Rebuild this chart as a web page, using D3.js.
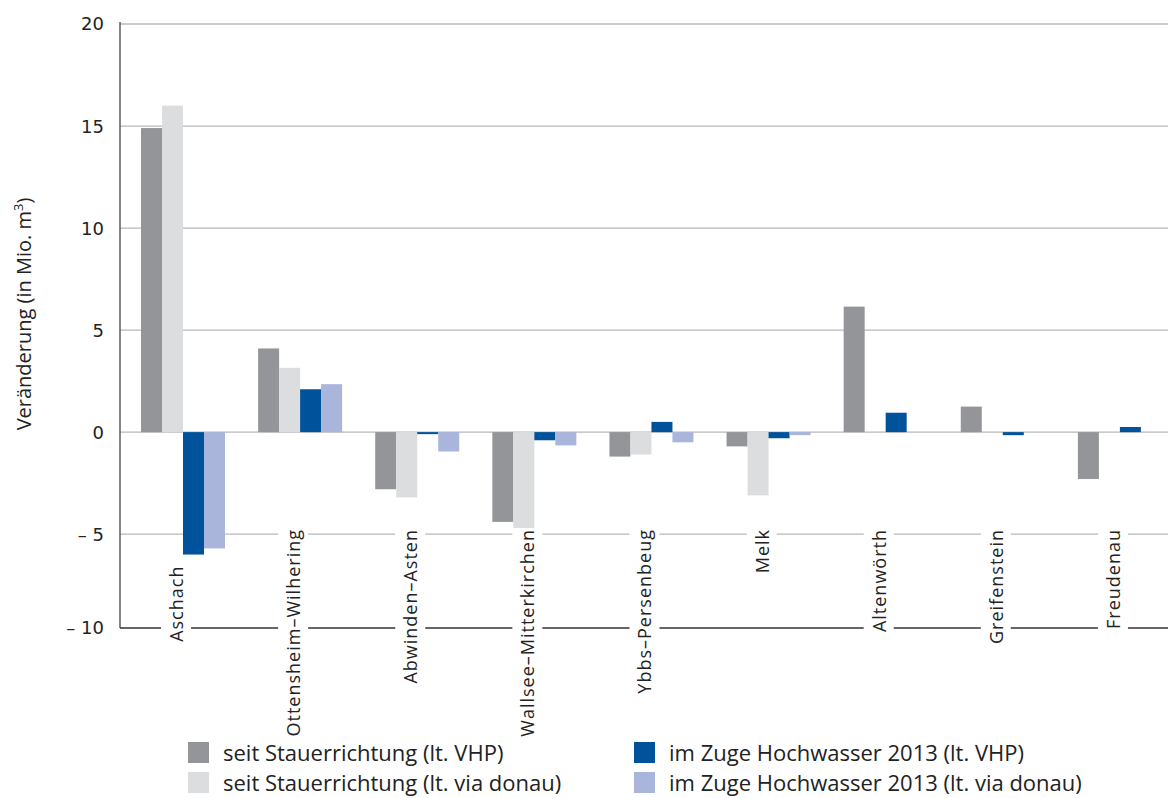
<!DOCTYPE html>
<html>
<head>
<meta charset="utf-8">
<script src="https://cdnjs.cloudflare.com/ajax/libs/d3/7.8.5/d3.min.js"></script>
<style>
  body { margin: 0; background: #fff; }
  svg { display: block; }
</style>
</head>
<body>
<svg id="chart" width="1168" height="798"></svg>
<script>
// data
var categories = ["Aschach", "Ottensheim\u2013Wilhering", "Abwinden\u2013Asten", "Wallsee\u2013Mitterkirchen",
  "Ybbs\u2013Persenbeug", "Melk", "Altenwörth", "Greifenstein", "Freudenau"];
var seitVHP = [14.9, 4.1, -2.8, -4.4, -1.2, -0.7, 6.15, 1.25, -2.3];
var seitVia = [16.0, 3.15, -3.2, -4.7, -1.1, -3.1, null, null, null];
var hwVHP = [-6.0, 2.1, -0.1, -0.4, 0.5, -0.3, 0.95, -0.15, 0.25];
var hwVia = [-5.7, 2.35, -0.95, -0.65, -0.5, -0.15, null, null, null];
var seriesNames = ["seit Stauerrichtung (lt. VHP)", "seit Stauerrichtung (lt. via donau)",
  "im Zuge Hochwasser 2013 (lt. VHP)", "im Zuge Hochwasser 2013 (lt. via donau)"];
var seriesColors = ["#939598", "#dcdddf", "#00529b", "#a9b5da"];
var yTicks = [20, 15, 10, 5, 0, -5, -10];

var series = [seitVHP, seitVia, hwVHP, hwVia];
var svg = d3.select("#chart");
var font = "'Open Sans', 'Noto Sans', sans-serif";

var plotLeft = 120, plotRight = 1174, plotTop = 24, plotBottom = 628;
var labelTop = 529;

var y = d3.scaleLinear().domain([-9.6, 20]).range([plotBottom, plotTop]).clamp(true);
var x = d3.scaleBand().domain(categories).range([plotLeft, plotRight]);
var xs = d3.scaleBand().domain(d3.range(series.length)).range([21, 105]);

// gridlines
svg.append("g")
  .selectAll("line")
  .data(yTicks.filter(function (t) { return t > -10; }))
  .join("line")
  .attr("x1", plotLeft).attr("x2", 1168)
  .attr("y1", function (d) { return y(d); })
  .attr("y2", function (d) { return y(d); })
  .attr("stroke", "#b8b8b8")
  .attr("stroke-width", 1.3);

// bars
var groups = svg.append("g").selectAll("g")
  .data(categories)
  .join("g")
  .attr("transform", function (d) { return "translate(" + x(d) + ",0)"; });

groups.each(function (cat, i) {
  var vals = series.map(function (s, k) { return { k: k, v: s[i] }; })
    .filter(function (d) { return d.v !== null; });
  d3.select(this).selectAll("rect")
    .data(vals)
    .join("rect")
    .attr("x", function (d) { return xs(d.k); })
    .attr("width", xs.bandwidth())
    .attr("y", function (d) { return y(Math.max(0, d.v)); })
    .attr("height", function (d) { return Math.abs(y(d.v) - y(0)); })
    .attr("fill", function (d) { return seriesColors[d.k]; });
});

// axis lines
svg.append("line")
  .attr("x1", plotLeft).attr("x2", plotLeft).attr("y1", plotTop - 2).attr("y2", plotBottom)
  .attr("stroke", "#444").attr("stroke-width", 1.3);
svg.append("line")
  .attr("x1", plotLeft).attr("x2", 1168).attr("y1", plotBottom).attr("y2", plotBottom)
  .attr("stroke", "#333").attr("stroke-width", 1.3);

// category labels (white box knocks out the lines behind)
var labelG = svg.append("g").selectAll("g")
  .data(categories)
  .join("g")
  .attr("transform", function (d, i) {
    var lowest = d3.min(series, function (s) { return s[i] === null ? 0 : s[i]; });
    // only push the label down when a bar reaches well below the label top
    var start = y(lowest) > labelTop + 10 ? y(lowest) + 11 : labelTop;
    return "translate(" + (x(d) + x.bandwidth() / 2 - 2) + "," + start + ") rotate(-90)";
  });

labelG.append("text")
  .attr("text-anchor", "end")
  .attr("dy", "0.36em")
  .attr("font-family", font)
  .attr("font-size", 18)
  .attr("letter-spacing", 1.0)
  .attr("fill", "#222")
  .text(function (d) { return d; });

labelG.each(function () {
  var g = d3.select(this);
  var b = g.select("text").node().getBBox();
  g.insert("rect", "text")
    .attr("x", b.x - 3).attr("y", b.y - 3)
    .attr("width", b.width + 3).attr("height", b.height + 6)
    .attr("fill", "#fff");
});

// y tick labels
svg.append("g")
  .selectAll("text")
  .data(yTicks)
  .join("text")
  .attr("x", 104)
  .attr("y", function (d) { return y(d); })
  .attr("dy", "0.36em")
  .attr("text-anchor", "end")
  .attr("font-family", "'DejaVu Sans', sans-serif")
  .attr("font-size", 18)
  .attr("fill", "#222")
  .text(function (d) { return d < 0 ? "\u2013 " + Math.abs(d) : d; });

// y title
var title = svg.append("text")
  .attr("transform", "translate(31,314) rotate(-90)")
  .attr("text-anchor", "middle")
  .attr("font-family", font)
  .attr("font-size", 20)
  .attr("fill", "#222");
title.append("tspan").text("Veränderung (in Mio. m");
title.append("tspan").attr("dy", -8).attr("font-size", 13).text("3");
title.append("tspan").attr("dy", 8).text(")");

// legend
var legendPos = [[188, 753], [188, 783], [634, 753], [634, 783]];
var legend = svg.append("g").selectAll("g")
  .data(seriesNames)
  .join("g")
  .attr("transform", function (d, i) { return "translate(" + legendPos[i][0] + "," + legendPos[i][1] + ")"; });

legend.append("rect")
  .attr("x", 0).attr("y", -11).attr("width", 21).attr("height", 21)
  .attr("fill", function (d, i) { return seriesColors[i]; });

legend.append("text")
  .attr("x", 35)
  .attr("dy", "0.36em")
  .attr("font-family", font)
  .attr("font-size", 22)
  .attr("fill", "#222")
  .text(function (d) { return d; });
</script>
</body>
</html>
